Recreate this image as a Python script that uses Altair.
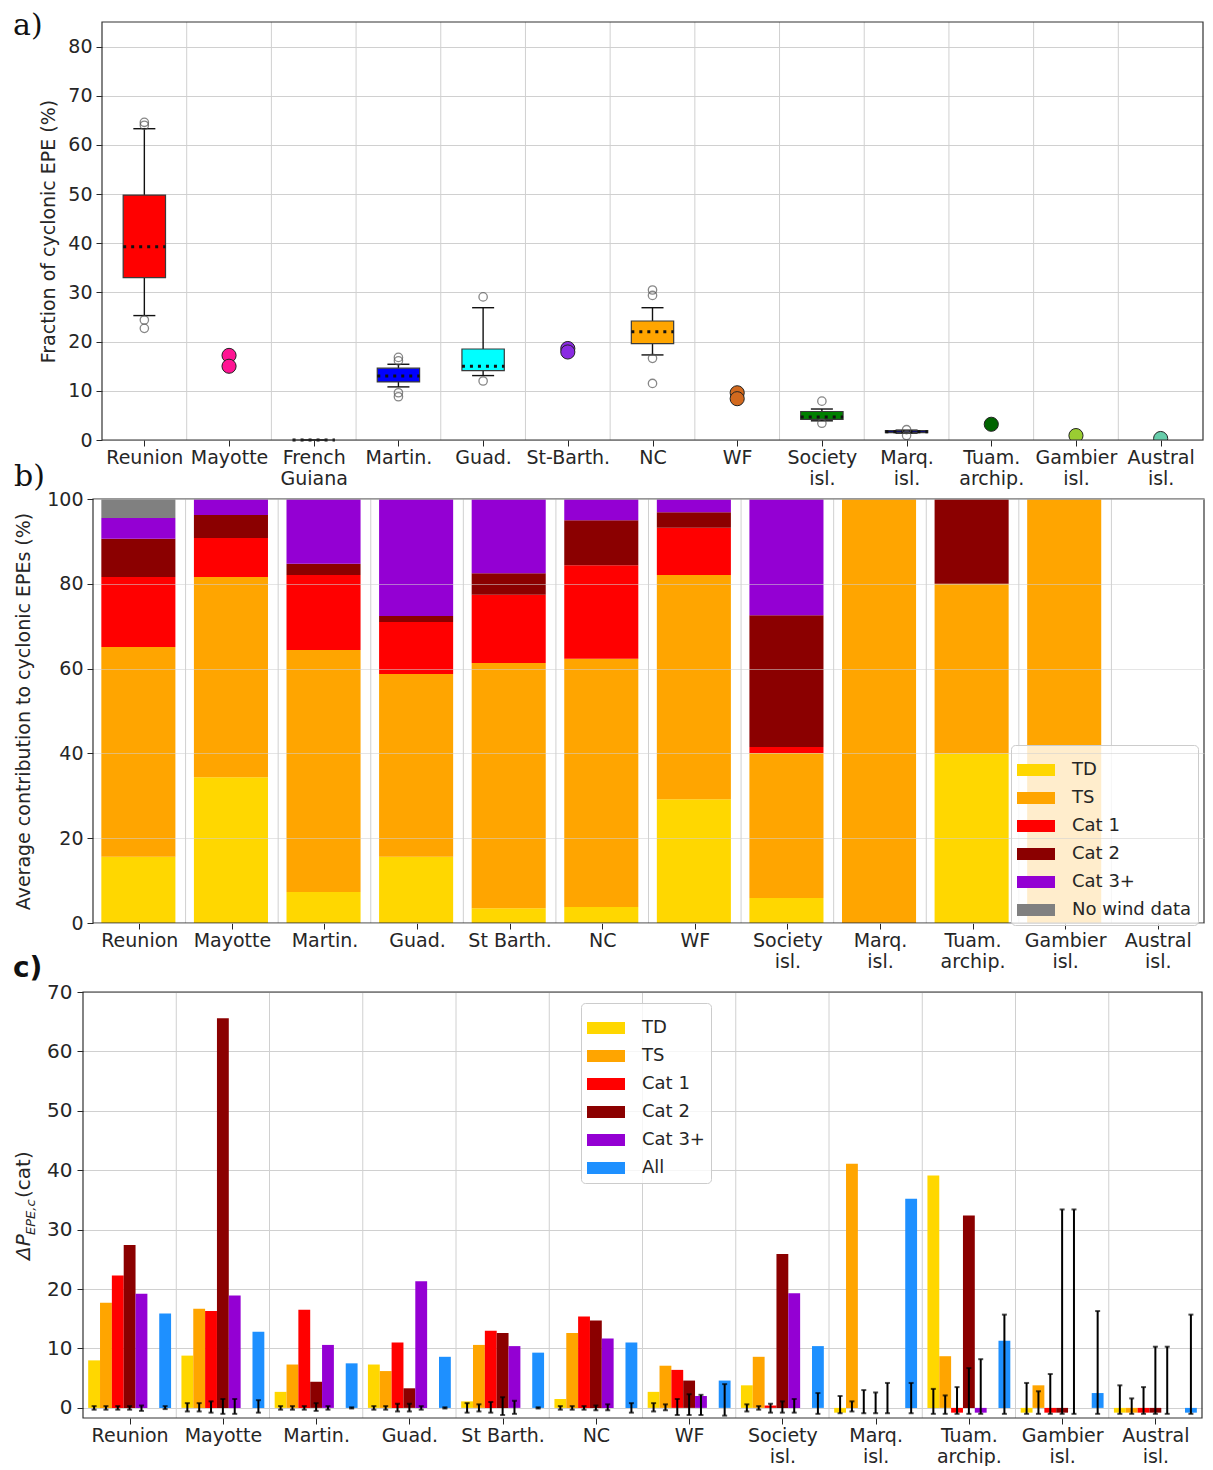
import json
import altair as alt
import pandas as pd

FONT = "DejaVu Sans"
INK = "#262626"
GRID = "#d0d0d0"
FRAME = "#333333"

# ---------------- panel a data ----------------
islands_a = ["Reunion", "Mayotte", "French|Guiana", "Martin.", "Guad.", "St-Barth.", "NC", "WF",
             "Society|isl.", "Marq.|isl.", "Tuam.|archip.", "Gambier|isl.", "Austral|isl."]
colors_a = ["#ff0000", "#ff1493", "#a0522d", "#0000ff", "#00ffff", "#8a2be2", "#ffa500", "#d2691e",
            "#008000", "#000080", "#006400", "#9acd32", "#66cdaa"]
box_q1 = [33.0, None, 0.0, 11.8, 14.1, None, 19.6, None, 4.2, 1.5, None, None, None]
box_med = [39.3, None, 0.0, 13.0, 15.0, None, 22.0, None, 4.7, 1.7, None, None, None]
box_q3 = [49.8, None, 0.0, 14.6, 18.5, None, 24.2, None, 5.8, 1.9, None, None, None]
whisk_lo = [25.3, None, 0.0, 10.8, 13.1, None, 17.3, None, 3.9, 1.4, None, None, None]
whisk_hi = [63.3, None, 0.0, 15.4, 26.9, None, 26.9, None, 6.3, 2.0, None, None, None]
outliers_a = [[64.6, 64.0, 24.4, 22.7], [], [], [16.8, 16.1, 9.6, 8.8], [29.1, 12.0], [],
              [30.5, 29.4, 16.6, 11.5], [], [7.9, 3.4], [2.1, 0.9], [], [], []]
members_a = [[], [17.2, 15.0], [], [], [], [18.6, 17.9], [], [9.6, 8.4], [], [], [3.2], [0.9], [0.3]]

# ---------------- panel b data ----------------
islands_bc = ["Reunion", "Mayotte", "Martin.", "Guad.", "St Barth.", "NC", "WF", "Society|isl.",
              "Marq.|isl.", "Tuam.|archip.", "Gambier|isl.", "Austral|isl."]
cats_b = ["TD", "TS", "Cat 1", "Cat 2", "Cat 3+", "No wind data"]
colors_b = ["#ffd700", "#ffa500", "#ff0000", "#8b0000", "#9400d3", "#808080"]
share_td = [15.6, 34.4, 7.3, 15.6, 3.5, 3.8, 29.2, 5.9, 0.0, 40.0, 0.0, 0.0]
share_ts = [49.5, 47.2, 57.1, 43.1, 57.8, 58.5, 52.9, 34.2, 100.0, 40.0, 100.0, 0.0]
share_c1 = [16.5, 9.2, 17.7, 12.3, 16.1, 22.1, 11.1, 1.4, 0.0, 0.0, 0.0, 0.0]
share_c2 = [9.0, 5.4, 2.6, 1.4, 5.1, 10.6, 3.7, 31.1, 0.0, 20.0, 0.0, 0.0]
share_c3 = [4.9, 3.8, 15.3, 27.6, 17.5, 5.0, 3.1, 27.4, 0.0, 0.0, 0.0, 0.0]
share_nw = [4.5, 0.0, 0.0, 0.0, 0.0, 0.0, 0.0, 0.0, 0.0, 0.0, 0.0, 0.0]

# ---------------- panel c data ----------------
series_c = ["TD", "TS", "Cat 1", "Cat 2", "Cat 3+", "All"]
colors_c = ["#ffd700", "#ffa500", "#ff0000", "#8b0000", "#9400d3", "#1e90ff"]
val_td = [8.0, 8.8, 2.7, 7.3, 1.1, 1.5, 2.7, 3.8, -0.8, 39.1, -0.8, -0.8]
val_ts = [17.7, 16.7, 7.3, 6.2, 10.6, 12.6, 7.1, 8.6, 41.1, 8.7, 3.8, -0.8]
val_c1 = [22.3, 16.3, 16.5, 11.0, 13.0, 15.4, 6.4, 0.4, 0.0, -0.8, -0.8, -0.8]
val_c2 = [27.4, 65.6, 4.4, 3.3, 12.6, 14.7, 4.6, 25.9, 0.0, 32.4, -0.8, -0.8]
val_c3 = [19.2, 18.9, 10.6, 21.3, 10.4, 11.7, 2.0, 19.3, 0.0, -0.8, 0.0, 0.0]
val_all = [15.9, 12.8, 7.5, 8.6, 9.3, 11.0, 4.6, 10.4, 35.2, 11.3, 2.5, -0.8]
lo_td = [-0.3, -0.6, -0.3, -0.3, -0.8, -0.3, -0.6, -0.6, -0.9, -1.0, -1.0, -1.0]
hi_td = [0.3, 0.8, 0.3, 0.3, 0.8, 0.3, 0.8, 0.6, 2.0, 3.2, 4.2, 3.8]
lo_ts = [-0.3, -0.6, -0.3, -0.3, -0.6, -0.3, -0.4, -0.3, -0.6, -1.0, -1.0, -1.0]
hi_ts = [0.3, 0.8, 0.3, 0.3, 0.6, 0.3, 0.6, 0.3, 1.1, 2.1, 2.8, 1.6]
lo_c1 = [-0.3, -0.8, -0.3, -0.6, -0.8, -0.3, -1.2, -0.8, -0.9, -1.0, -1.0, -1.0]
hi_c1 = [0.3, 1.1, 0.3, 0.7, 1.0, 0.3, 1.5, 0.7, 3.0, 3.5, 5.7, 3.5]
lo_c2 = [-0.3, -1.0, -0.5, -0.6, -1.2, -0.4, -1.2, -0.8, -0.9, -1.0, -1.0, -1.0]
hi_c2 = [0.3, 1.5, 0.8, 0.7, 1.8, 0.4, 2.3, 1.1, 2.6, 6.7, 33.4, 10.3]
lo_c3 = [-0.5, -1.0, -0.3, -0.3, -1.0, -0.4, -1.2, -0.8, -0.9, -1.0, -1.0, -1.0]
hi_c3 = [0.4, 1.5, 0.3, 0.3, 1.2, 0.6, 2.2, 1.5, 4.2, 8.2, 33.4, 10.3]
lo_all = [-0.2, -0.8, -0.1, -0.1, -0.1, -0.8, -1.3, -1.0, -0.9, -1.0, -1.0, -1.0]
hi_all = [0.3, 1.3, 0.1, 0.1, 0.1, 0.8, 4.0, 2.5, 4.2, 15.7, 16.3, 15.7]

# ---------------- helpers ----------------
RECT = "M-1,-0.32H1V0.32H-1Z"


def label_expr(names):
    return "split(" + json.dumps(names) + "[floor(datum.value)], '|')"


def x_axis(names, size):
    return alt.Axis(values=[i + 0.5 for i in range(len(names))], labelExpr=label_expr(names),
                    grid=False, ticks=True, tickSize=6, labelPadding=2, labelLineHeight=21,
                    labelFontSize=size, labelAngle=0, labelOverlap=False, labelFlush=False,
                    domain=False, title=None)


def one():
    return pd.DataFrame({"k": [0]})


def letter(txt, x, y, font, weight="normal", size=30):
    return alt.Chart(one()).mark_text(text=txt, font=font, fontSize=size, fontWeight=weight,
                                      align="left", baseline="top", color="#111111").encode(
        x=alt.value(x), y=alt.value(y))


def frame(w, h):
    return alt.Chart(one()).mark_rect(filled=False, stroke=FRAME, strokeWidth=1.2).encode(
        x=alt.value(0), x2=alt.value(w), y=alt.value(0), y2=alt.value(h))


def spacer():
    return alt.Chart(one()).mark_point(opacity=0, size=1).encode(
        x=alt.value(0.5), y=alt.value(0.5)).properties(width=1, height=1)


def legend(x, y):
    return alt.Legend(title=None, orient="none", legendX=x, legendY=y,
                      symbolType=RECT, symbolSize=1444, symbolStrokeWidth=0,
                      symbolOpacity=1, labelFont=FONT, labelFontSize=18,
                      labelColor=INK, labelOffset=17, rowPadding=-1, padding=6,
                      fillColor="rgba(255,255,255,0.8)", strokeColor="#cccccc",
                      cornerRadius=4)


# ================= panel a =================
WA, HA = 1101, 418
n_a = len(islands_a)
sxa = alt.Scale(domain=[0, n_a], nice=False, zero=False)
sya = alt.Scale(domain=[0, 85], nice=False, zero=False)
axa = x_axis(islands_a, 19)
aya = alt.Axis(values=list(range(0, 81, 10)), title="Fraction of cyclonic EPE (%)",
               titleX=-44, grid=True, tickSize=6, labelPadding=4, labelFlush=False, domain=False)


def XA(f):
    return alt.X(f"{f}:Q", scale=sxa, axis=axa)


def YA(f):
    return alt.Y(f"{f}:Q", scale=sya, axis=aya)


grid_a = pd.DataFrame({"b": list(range(1, n_a))})
box_df = pd.DataFrame([
    dict(c=i + 0.5, xl=i + 0.25, xr=i + 0.75, cl=i + 0.37, cr=i + 0.63,
         q1=box_q1[i], med=box_med[i], q3=box_q3[i], lo=whisk_lo[i], hi=whisk_hi[i], col=colors_a[i])
    for i in range(n_a) if box_q1[i] is not None])
out_df = pd.DataFrame([dict(c=i + 0.5, v=v) for i in range(n_a) for v in outliers_a[i]])
mem_df = pd.DataFrame([dict(c=i + 0.5, v=v, col=colors_a[i]) for i in range(n_a) for v in members_a[i]])

a_grid = alt.Chart(grid_a).mark_rule(color=GRID, strokeWidth=1).encode(x=XA("b"))
a_wlo = alt.Chart(box_df).mark_rule(color="#111111", strokeWidth=1.4).encode(
    x=XA("c"), y=YA("lo"), y2="q1:Q")
a_whi = alt.Chart(box_df).mark_rule(color="#111111", strokeWidth=1.4).encode(
    x=XA("c"), y=YA("q3"), y2="hi:Q")
a_cap_lo = alt.Chart(box_df).mark_rule(color="#111111", strokeWidth=1.4).encode(
    x=XA("cl"), x2="cr:Q", y=YA("lo"))
a_cap_hi = alt.Chart(box_df).mark_rule(color="#111111", strokeWidth=1.4).encode(
    x=XA("cl"), x2="cr:Q", y=YA("hi"))
a_box = alt.Chart(box_df).mark_rect(stroke="#3a3a3a", strokeWidth=1.2).encode(
    x=XA("xl"), x2="xr:Q", y=YA("q1"), y2="q3:Q", fill=alt.Fill("col:N", scale=None))
a_med = alt.Chart(box_df).mark_rule(color="#111111", strokeWidth=3, strokeDash=[3, 5]).encode(
    x=XA("xl"), x2="xr:Q", y=YA("med"))
a_out = alt.Chart(out_df).mark_point(shape="circle", filled=False, size=70, color="#555555",
                                     strokeWidth=1.3, clip=True).encode(x=XA("c"), y=YA("v"))
a_mem = alt.Chart(mem_df).mark_point(shape="circle", filled=True, size=200, opacity=1,
                                     stroke="#222222", strokeWidth=1, clip=True).encode(
    x=XA("c"), y=YA("v"), fill=alt.Fill("col:N", scale=None))
a_letter = letter("a)", -89, -11, "DejaVu Serif")

panel_a = alt.layer(a_grid, a_wlo, a_whi, a_cap_lo, a_cap_hi, a_box, a_med, a_out, a_mem,
                    a_letter, frame(WA, HA)).properties(width=WA, height=HA)

# ================= panel b =================
WB, HB = 1111, 424
n_b = len(islands_bc)
sxb = alt.Scale(domain=[0, n_b], nice=False, zero=False)
syb = alt.Scale(domain=[0, 100], nice=False, zero=False)
axb = x_axis(islands_bc, 19)
ayb = alt.Axis(values=list(range(0, 101, 20)), title="Average contribution to cyclonic EPEs (%)",
               titleX=-60, grid=True, gridOpacity=0.55, zindex=1,
               tickSize=6, labelPadding=4, labelFlush=False, domain=False)
grid_b = pd.DataFrame({"b": list(range(1, n_b))})
shares = [share_td, share_ts, share_c1, share_c2, share_c3, share_nw]
stack_df = pd.DataFrame([
    dict(i=i, xl=i + 0.09, xr=i + 0.89, cat=cats_b[k], order=k, v=shares[k][i])
    for i in range(n_b) for k in range(len(cats_b))])

b_grid = alt.Chart(grid_b).mark_rule(color=GRID, strokeWidth=1).encode(
    x=alt.X("b:Q", scale=sxb, axis=axb))
b_bars = alt.Chart(stack_df).transform_stack(
    stack="v", groupby=["i"], as_=["y0", "y1"], sort=[alt.SortField("order", order="ascending")]
).mark_rect().encode(
    x=alt.X("xl:Q", scale=sxb, axis=axb), x2="xr:Q",
    y=alt.Y("y0:Q", scale=syb, axis=ayb), y2="y1:Q",
    color=alt.Color("cat:N", scale=alt.Scale(domain=cats_b, range=colors_b), legend=legend(918, 246)))
b_letter = letter("b)", -79, -37, "DejaVu Serif")
panel_b = alt.layer(b_grid, b_bars, b_letter, frame(WB, HB)).properties(width=WB, height=HB)

# ================= panel c =================
WC, HC = 1119, 426
syc = alt.Scale(domain=[-1.7, 70], nice=False, zero=False)
sxc = alt.Scale(domain=[0, n_b], nice=False, zero=False)
axc = x_axis(islands_bc, 19)
ayc = alt.Axis(values=list(range(0, 71, 10)), title=None, grid=True, tickSize=6, labelPadding=5,
               labelFlush=False, labelFontSize=20, domain=False)
offsets_c = [-0.381, -0.254, -0.127, 0.0, 0.127, 0.381]
BW = 0.127
vals = [val_td, val_ts, val_c1, val_c2, val_c3, val_all]
los = [lo_td, lo_ts, lo_c1, lo_c2, lo_c3, lo_all]
his = [hi_td, hi_ts, hi_c1, hi_c2, hi_c3, hi_all]
bar_df = pd.DataFrame([
    dict(c=i + 0.5 + offsets_c[k], xl=i + 0.5 + offsets_c[k] - BW / 2, xr=i + 0.5 + offsets_c[k] + BW / 2,
         s=series_c[k], v=vals[k][i], z=0.0, lo=los[k][i], hi=his[k][i])
    for i in range(n_b) for k in range(len(series_c))])


def XC(f):
    return alt.X(f"{f}:Q", scale=sxc, axis=axc)


def YC(f):
    return alt.Y(f"{f}:Q", scale=syc, axis=ayc)


c_grid = alt.Chart(grid_b).mark_rule(color=GRID, strokeWidth=1).encode(x=XC("b"))
c_bars = alt.Chart(bar_df).mark_rect().encode(
    x=XC("xl"), x2="xr:Q", y=YC("v"), y2="z:Q",
    color=alt.Color("s:N", scale=alt.Scale(domain=series_c, range=colors_c), legend=legend(498, 11)))
c_err = alt.Chart(bar_df).mark_rule(color="#000000", strokeWidth=2).encode(
    x=XC("c"), y=YC("lo"), y2="hi:Q")
c_cap_hi = alt.Chart(bar_df).mark_tick(color="#000000", orient="horizontal", size=5, thickness=2).encode(
    x=XC("c"), y=YC("hi"))
c_cap_lo = alt.Chart(bar_df).mark_tick(color="#000000", orient="horizontal", size=5, thickness=2).encode(
    x=XC("c"), y=YC("lo"))
c_t1 = alt.Chart(one()).mark_text(text="ΔP", font=FONT, fontSize=20, fontStyle="italic", angle=270,
                                  align="left", baseline="alphabetic", color=INK).encode(
    x=alt.value(-53), y=alt.value(268))
c_t2 = alt.Chart(one()).mark_text(text="EPE,c", font=FONT, fontSize=13, fontStyle="italic", angle=270,
                                  align="left", baseline="alphabetic", color=INK).encode(
    x=alt.value(-48), y=alt.value(243))
c_t3 = alt.Chart(one()).mark_text(text="(cat)", font=FONT, fontSize=20, angle=270,
                                  align="left", baseline="alphabetic", color=INK).encode(
    x=alt.value(-53), y=alt.value(206))
c_letter = letter("c)", -70, -37, FONT, weight="bold", size=28)
panel_c = alt.layer(c_grid, c_bars, c_err, c_cap_hi, c_cap_lo, c_t1, c_t2, c_t3, c_letter,
                    frame(WC, HC)).properties(width=WC, height=HC)

res = dict(x="independent", y="independent", color="independent")
row_a = alt.hconcat(spacer(), panel_a, spacing=0).resolve_scale(**res)
row_b = alt.hconcat(spacer(), panel_b, spacing=0).resolve_scale(**res)
row_c = alt.hconcat(spacer(), panel_c, spacing=0).resolve_scale(**res)
inner = alt.vconcat(row_b, row_c, spacing=-16).resolve_scale(**res)
chart = alt.vconcat(row_a, inner, spacing=-26,
                    padding={"left": 4, "top": 3, "right": 0, "bottom": 0}).resolve_scale(**res)
chart = chart.configure_view(strokeWidth=0).configure_axis(
    labelFont=FONT, titleFont=FONT, labelColor=INK, titleColor=INK, labelFontSize=19,
    titleFontSize=19, titleFontWeight="normal", tickColor=INK, gridColor=GRID)

chart.save("out.html", embed_options={"renderer": "svg", "actions": False})
